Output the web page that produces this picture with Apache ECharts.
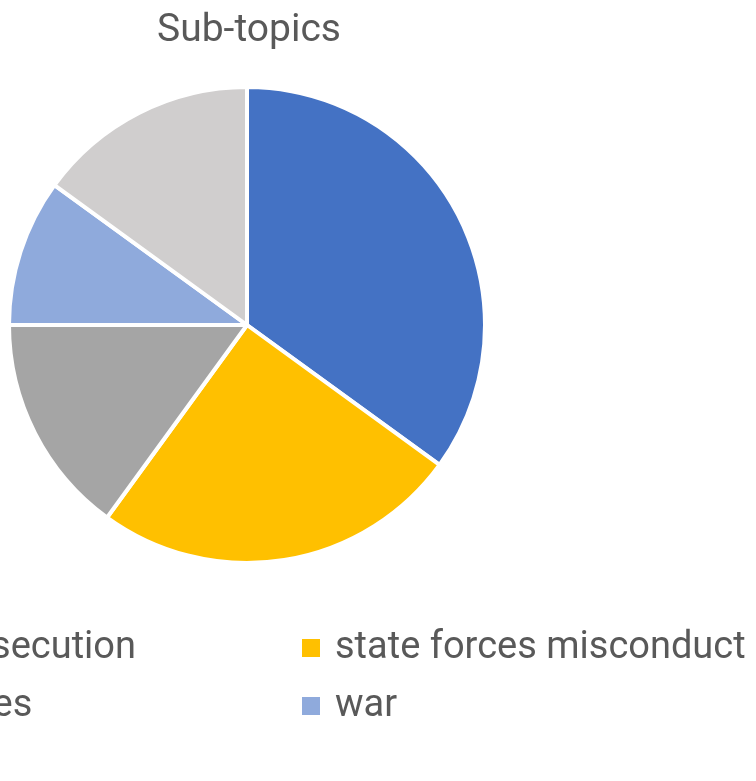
<!DOCTYPE html>
<html>
<head>
<meta charset="utf-8">
<script src="https://cdn.jsdelivr.net/npm/echarts@6/dist/echarts.min.js"></script>
<style>
  html, body { margin: 0; padding: 0; background: #fff; }
  #graph { width: 756px; height: 781px; }
</style>
</head>
<body>
<div id="graph"></div>
<script>
const topics = ['persecution', 'state forces misconduct', 'tribes', 'war', 'other'];
const shares = [35, 25, 15, 10, 15];
const colors = ['#4472C4', '#FFC000', '#A5A5A5', '#8FAADC', '#D0CECE'];
const leftColumn = ['persecution', 'tribes'];
const rightColumn = ['state forces misconduct', 'war'];

const fontFamily = 'Roboto, "Noto Sans", sans-serif';
const legendSize = 38;

function textWidth(text, size) {
  const ctx = document.createElement('canvas').getContext('2d');
  ctx.font = size + 'px ' + fontFamily;
  return ctx.measureText(text).width;
}

function legendFor(names, left) {
  return {
    data: names,
    orient: 'vertical',
    left: left,
    top: 627,
    padding: 0,
    icon: 'rect',
    itemWidth: 20,
    itemHeight: 20,
    itemGap: 16,
    textStyle: {
      fontFamily: fontFamily,
      fontSize: legendSize,
      lineHeight: 42,
      color: '#595959',
      padding: [0, 0, 0, 9]
    }
  };
}

function createOptions() {
  const slices = topics.map((name, i) => ({
    name: name,
    value: shares[i],
    itemStyle: { color: colors[i] }
  }));
  return {
    animation: false,
    title: {
      text: 'Sub-topics',
      left: 244,
      textAlign: 'center',
      top: 7,
      textStyle: {
        fontFamily: fontFamily,
        fontWeight: 'normal',
        fontSize: 39,
        color: '#595959'
      }
    },
    legend: [
      // right end of "persecution" sits at x = 135 in the picture
      legendFor(leftColumn, 135 - textWidth('persecution', legendSize) - 34),
      legendFor(rightColumn, 300)
    ],
    series: [
      {
        type: 'pie',
        center: [247, 325],
        radius: 238,
        startAngle: 90,
        label: { show: false },
        labelLine: { show: false },
        itemStyle: { borderColor: '#fff', borderWidth: 4 },
        emphasis: { disabled: true },
        data: slices
      }
    ]
  };
}

const myChart = echarts.init(document.getElementById('graph'));
myChart.setOption(createOptions());
</script>
</body>
</html>
